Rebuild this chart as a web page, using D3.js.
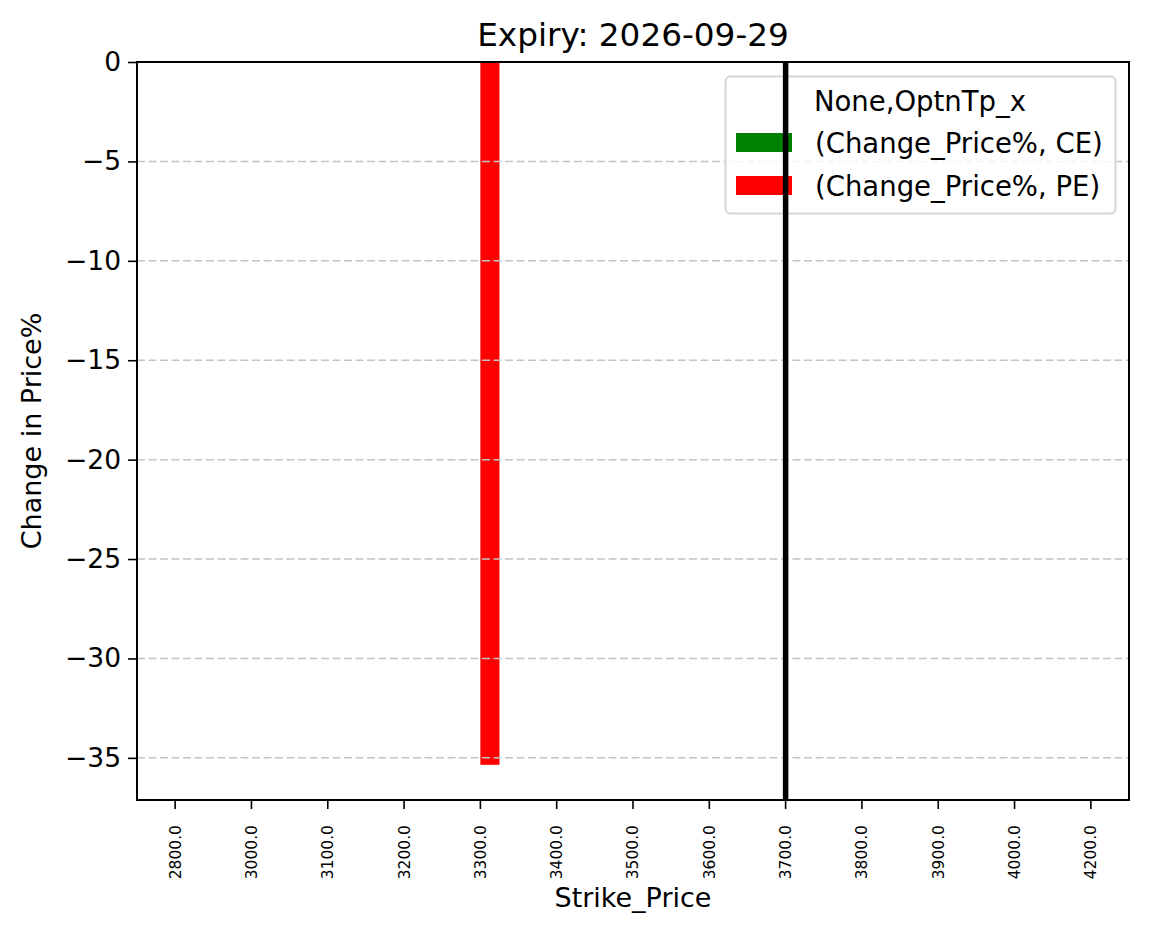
<!DOCTYPE html>
<html>
<head>
<style type="text/css">
body { margin: 0; background: #fff; }
svg text { font-family: "DejaVu Sans", sans-serif; fill: #000; }
.grid line { stroke: #c4c4c4; stroke-width: 1.5; stroke-dasharray: 8,3.5; }
.axis path, .axis line { stroke: #000; }
</style>
<script src="https://d3js.org/d3.v7.min.js"></script>
</head>
<body>
<script type="text/javascript">
var strikes = ["2800.0", "3000.0", "3100.0", "3200.0", "3300.0", "3400.0", "3500.0",
               "3600.0", "3700.0", "3800.0", "3900.0", "4000.0", "4200.0"];
var ceChange = [null, null, null, null, null, null, null, null, null, null, null, null, null];
var peChange = [null, null, null, null, -35.35, null, null, null, null, null, null, null, null];
var yTicks = [0, -5, -10, -15, -20, -25, -30, -35];
var spotStrike = "3700.0";
var seriesNames = ["(Change_Price%, CE)", "(Change_Price%, PE)"];
var seriesColors = ["green", "red"];

var width = 1149, height = 939;
var mL = 137, mR = 1129, mT = 62, mB = 800;

var svg = d3.select("body").append("svg").attr("width", width).attr("height", height);

var x = d3.scaleBand().domain(strikes).range([mL, mR]).padding(0);
var y = d3.scaleLinear().domain([-37.12, 0]).range([mB, mT]);
var bw = x.bandwidth() * 0.25;

// bars
var series = [ceChange, peChange];
series.forEach(function(vals, s) {
	svg.append("g").selectAll("rect")
		.data(strikes.map(function(k, i) { return {k: k, v: vals[i]}; }).filter(function(d) { return d.v != null; }))
		.enter().append("rect")
		.attr("x", function(d) { return x(d.k) + x.bandwidth() / 2 - bw + s * bw; })
		.attr("width", bw)
		.attr("y", function(d) { return y(Math.max(0, d.v)); })
		.attr("height", function(d) { return Math.abs(y(d.v) - y(0)); })
		.attr("fill", seriesColors[s]);
});

// y grid
svg.append("g").attr("class", "grid").selectAll("line")
	.data(yTicks).enter().append("line")
	.attr("x1", mL).attr("x2", mR)
	.attr("y1", function(d) { return y(d); }).attr("y2", function(d) { return y(d); });

// axes
var fmt = function(d) { return d < 0 ? "\u2212" + Math.abs(d) : "" + d; };
var yAxis = svg.append("g").attr("class", "axis").attr("transform", "translate(" + mL + ",0)")
	.call(d3.axisLeft(y).tickValues(yTicks).tickFormat(fmt).tickSize(9).tickPadding(7));
yAxis.select(".domain").remove();
yAxis.selectAll("line").attr("stroke-width", 1.6);
yAxis.selectAll("text").attr("font-size", 26.5).attr("font-family", "DejaVu Sans");

var xAxis = svg.append("g").attr("class", "axis").attr("transform", "translate(0," + mB + ")")
	.call(d3.axisBottom(x).tickSize(9).tickPadding(7));
xAxis.select(".domain").remove();
xAxis.selectAll("line").attr("stroke-width", 1.6);
xAxis.selectAll("text").attr("font-size", 15.5).attr("font-family", "DejaVu Sans")
	.attr("transform", "rotate(-90)").attr("text-anchor", "end")
	.attr("x", -25).attr("y", 0).attr("dy", "0.35em");

// frame
svg.append("rect").attr("x", mL).attr("y", mT).attr("width", mR - mL).attr("height", mB - mT)
	.attr("fill", "none").attr("stroke", "#000").attr("stroke-width", 2);

// legend
var lg = svg.append("g");
lg.append("rect").attr("x", 725.5).attr("y", 76.5).attr("width", 390).attr("height", 137)
	.attr("rx", 5).attr("fill", "#fff").attr("fill-opacity", 0.8)
	.attr("stroke", "#d6d6d6").attr("stroke-width", 2);
lg.append("text").attr("x", 920).attr("y", 111).attr("text-anchor", "middle")
	.attr("font-size", 27.5).text("None,OptnTp_x");
seriesNames.forEach(function(name, i) {
	var yy = 133 + i * 43;
	lg.append("rect").attr("x", 736).attr("y", yy).attr("width", 56).attr("height", 19).attr("fill", seriesColors[i]);
	lg.append("text").attr("x", 815).attr("y", yy + 20).attr("font-size", 27.5).text(name);
});

// spot line
svg.append("line")
	.attr("x1", x(spotStrike) + x.bandwidth() / 2).attr("x2", x(spotStrike) + x.bandwidth() / 2)
	.attr("y1", mT).attr("y2", mB)
	.attr("stroke", "#000").attr("stroke-width", 5.5);

// labels
svg.append("text").attr("x", (mL + mR) / 2).attr("y", 46).attr("text-anchor", "middle")
	.attr("font-size", 32.7).text("Expiry: 2026-09-29");
svg.append("text").attr("x", (mL + mR) / 2).attr("y", 907).attr("text-anchor", "middle")
	.attr("font-size", 27).text("Strike_Price");
svg.append("text").attr("transform", "translate(41," + (mT + mB) / 2 + ") rotate(-90)")
	.attr("text-anchor", "middle").attr("font-size", 27).text("Change in Price%");
</script>
</body>
</html>
